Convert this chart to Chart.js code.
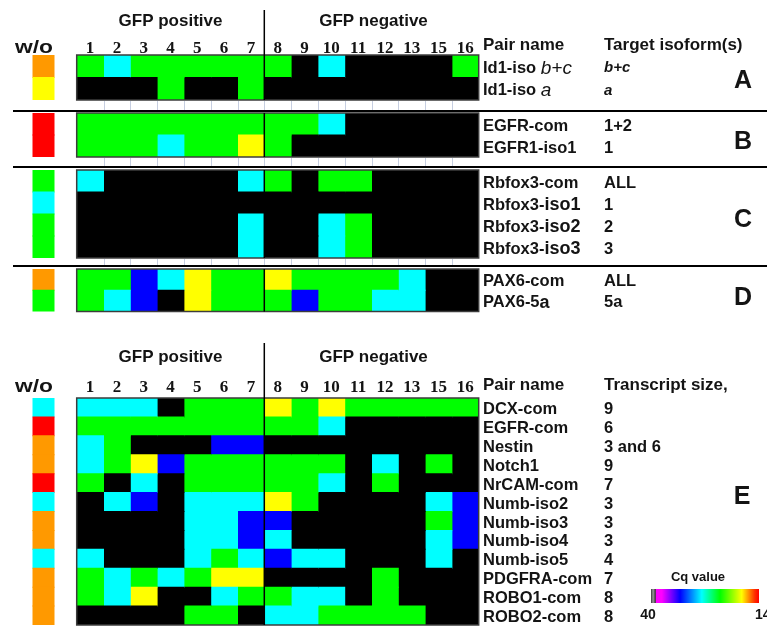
<!DOCTYPE html>
<html>
<head>
<meta charset="utf-8">
<script src="https://cdn.jsdelivr.net/npm/chart.js@4.4.1/dist/chart.umd.min.js"></script>
<style>
  html, body { margin: 0; padding: 0; background: #fff; }
  #wrap { position: relative; width: 767px; height: 627px; overflow: hidden;
          font-family: "Liberation Sans", Arial, sans-serif; font-weight: bold; color: #141414; }
  .sec { position: absolute; left: 0; }
  .rule { position: absolute; left: 13px; width: 754px; height: 2px; background: #000; }
  .letter { position: absolute; font-size: 25px; line-height: 1; transform: translate(-50%, -50%); }
  .txt { position: absolute; white-space: nowrap; line-height: 1; }
  #cbar { position: absolute; left: 651px; top: 589px; width: 108px; height: 14px;
          background: linear-gradient(to right, #3a3a3a 0%, #9a9a9a 2%, #3a3a3a 4%, #ff00ff 5%, #ff00ff 10%,
                      #0000ff 27%, #00ffff 47%, #00ff00 64%, #ffff00 84%, #ff3000 96%, #ff0000 100%); }
</style>
</head>
<body>
<div id="wrap">
  <div class="sec" style="top:0px"><canvas id="secA" width="767" height="111"></canvas></div>
  <div class="sec" style="top:111px"><canvas id="secB" width="767" height="55"></canvas></div>
  <div class="sec" style="top:168px"><canvas id="secC" width="767" height="97"></canvas></div>
  <div class="sec" style="top:267px"><canvas id="secD" width="767" height="47.5"></canvas></div>
  <div class="sec" style="top:330px"><canvas id="secE" width="767" height="297"></canvas></div>

  <div class="rule" style="top:110px"></div>
  <div class="rule" style="top:166px"></div>
  <div class="rule" style="top:265px"></div>

  <div class="letter" style="left:743px; top:79px">A</div>
  <div class="letter" style="left:743px; top:140px">B</div>
  <div class="letter" style="left:743px; top:218px">C</div>
  <div class="letter" style="left:743px; top:296px">D</div>
  <div class="letter" style="left:742px; top:495px">E</div>

  <div class="txt" style="left:698px; top:570px; font-size:13px; transform:translateX(-50%)">Cq value</div>
  <div id="cbar"></div>
  <div class="txt" style="left:648px; top:607px; font-size:14px; transform:translateX(-50%)">40</div>
  <div class="txt" style="left:755px; top:607px; font-size:14px;">14</div>
</div>

<script>
// Sample columns (cell pools); 1-7 are GFP positive, the rest GFP negative
const columns = ['1', '2', '3', '4', '5', '6', '7', '8', '9', '10', '11', '12', '13', '15', '16'];
const gfpPositiveCount = 7;

// Cq values; 40 means no amplification
// A: Id1
const namesA = ['Id1-iso b+c', 'Id1-iso a'];
const targetsA = ['b+c', 'a'];
const woA = [17, 20];
const cqA = [
  [24, 28, 24, 24, 24, 24, 24, 24, 40, 28, 40, 40, 40, 40, 24],
  [40, 40, 40, 24, 40, 40, 24, 40, 40, 40, 40, 40, 40, 40, 40]
];

// B: EGFR
const namesB = ['EGFR-com', 'EGFR1-iso1'];
const targetsB = ['1+2', '1'];
const woB = [15, 15];
const cqB = [
  [24, 24, 24, 24, 24, 24, 24, 24, 24, 28, 40, 40, 40, 40, 40],
  [24, 24, 24, 28, 24, 24, 20, 24, 40, 40, 40, 40, 40, 40, 40]
];

// C: Rbfox3
const namesC = ['Rbfox3-com', 'Rbfox3-iso1', 'Rbfox3-iso2', 'Rbfox3-iso3'];
const targetsC = ['ALL', '1', '2', '3'];
const woC = [24, 28, 24, 24];
const cqC = [
  [28, 40, 40, 40, 40, 40, 28, 24, 40, 24, 24, 40, 40, 40, 40],
  [40, 40, 40, 40, 40, 40, 40, 40, 40, 40, 40, 40, 40, 40, 40],
  [40, 40, 40, 40, 40, 40, 28, 40, 40, 28, 24, 40, 40, 40, 40],
  [40, 40, 40, 40, 40, 40, 28, 40, 40, 28, 24, 40, 40, 40, 40]
];

// D: PAX6
const namesD = ['PAX6-com', 'PAX6-5a'];
const targetsD = ['ALL', '5a'];
const woD = [17, 24];
const cqD = [
  [24, 24, 32, 28, 20, 24, 24, 20, 24, 24, 24, 24, 28, 40, 40],
  [24, 28, 32, 40, 20, 24, 24, 24, 32, 24, 24, 28, 28, 40, 40]
];

// E: marker panel
const namesE = ['DCX-com', 'EGFR-com', 'Nestin', 'Notch1', 'NrCAM-com', 'Numb-iso2',
                'Numb-iso3', 'Numb-iso4', 'Numb-iso5', 'PDGFRA-com', 'ROBO1-com', 'ROBO2-com'];
const sizesE = ['9', '6', '3 and 6', '9', '7', '3', '3', '3', '4', '7', '8', '8'];
const woE = [28, 15, 17, 17, 15, 28, 17, 17, 28, 17, 17, 17];
const cqE = [
  [28, 28, 28, 40, 24, 24, 24, 20, 24, 20, 24, 24, 24, 24, 24],
  [24, 24, 24, 24, 24, 24, 24, 24, 24, 28, 40, 40, 40, 40, 40],
  [28, 24, 40, 40, 40, 32, 32, 40, 40, 40, 40, 40, 40, 40, 40],
  [28, 24, 20, 32, 24, 24, 24, 24, 24, 24, 40, 28, 40, 24, 40],
  [24, 40, 28, 40, 24, 24, 24, 24, 24, 28, 40, 24, 40, 40, 40],
  [40, 28, 32, 40, 28, 28, 28, 20, 24, 40, 40, 40, 40, 28, 32],
  [40, 40, 40, 40, 28, 28, 32, 32, 40, 40, 40, 40, 40, 24, 32],
  [40, 40, 40, 40, 28, 28, 32, 28, 40, 40, 40, 40, 40, 28, 32],
  [28, 40, 40, 40, 28, 24, 28, 32, 28, 28, 40, 40, 40, 28, 40],
  [24, 28, 24, 28, 24, 20, 20, 40, 40, 40, 40, 24, 40, 40, 40],
  [24, 28, 20, 40, 40, 28, 24, 24, 28, 28, 40, 24, 40, 40, 40],
  [40, 40, 40, 40, 24, 24, 40, 28, 28, 24, 24, 24, 24, 40, 40]
];

// Cq -> colour (40 = not detected, drawn black)
function cqColor(v) {
  if (v >= 38) return '#000000';
  if (v >= 30) return '#0000ff';
  if (v >= 26) return '#00ffff';
  if (v >= 22) return '#00ff00';
  if (v >= 18.5) return '#ffff00';
  if (v >= 16) return '#ff9900';
  return '#ff0000';
}

// Page geometry
const CANVAS_W = 767;
const GRID_LEFT = 76.7, GRID_RIGHT = 478.7;
const COL_W = (GRID_RIGHT - GRID_LEFT) / columns.length;
const X_MIN = -GRID_LEFT / COL_W;
const WO_SPAN = [(33 - GRID_LEFT) / COL_W, (54 - GRID_LEFT) / COL_W];
const NAME_X = 483, TARGET_X = 604;
const SANS = '"Liberation Sans", Arial, sans-serif';
const SERIF = '"Liberation Serif", "Times New Roman", serif';
const TEXT_COLOR = '#141414';

const sections = [
  { id: 'secA', padTop: 55, padBottom: 11, gapLines: true, names: namesA, targets: targetsA, wo: woA, cq: cqA,
    targetItalic: true, header: { titleY: 21, numY: 53, lineTop: 10, nameTitle: 'Pair name', valueTitle: 'Target isoform(s)', titleBase: 50 } },
  { id: 'secB', padTop: 2, padBottom: 9, gapLines: true, names: namesB, targets: targetsB, wo: woB, cq: cqB },
  { id: 'secC', padTop: 2, padBottom: 7, gapLines: true, names: namesC, targets: targetsC, wo: woC, cq: cqC },
  { id: 'secD', padTop: 2, padBottom: 2.5, names: namesD, targets: targetsD, wo: woD, cq: cqD },
  { id: 'secE', padTop: 68, padBottom: 2, names: namesE, targets: sizesE, wo: woE, cq: cqE,
    header: { titleY: 27, numY: 62, lineTop: 13, nameTitle: 'Pair name', valueTitle: 'Transcript size,', titleBase: 60 } }
];

// Split a row label into differently styled runs
function labelRuns(text, base) {
  let m;
  if ((m = text.match(/^(Id1-iso )(.+)$/))) return [[m[1], base], [m[2], 'italic 19px ' + SANS]];
  if ((m = text.match(/^(Rbfox3-)(iso\d)$/))) return [[m[1], base], [m[2], 'bold 18px ' + SANS]];
  if ((m = text.match(/^(PAX6-5)(a)$/))) return [[m[1], base], [m[2], 'bold 18px ' + SANS]];
  return [[text, base]];
}

function drawRuns(ctx, runs, x, y) {
  runs.forEach(([t, f]) => {
    ctx.font = f;
    ctx.fillText(t, x, y);
    x += ctx.measureText(t).width;
  });
}

function sectionPlugin(s) {
  return {
    id: 'sectionDecor',
    afterDatasetsDraw(chart) {
      const ctx = chart.ctx;
      const xs = chart.scales.x, ys = chart.scales.y;
      const area = chart.chartArea;
      const x0 = xs.getPixelForValue(0);
      const x1 = xs.getPixelForValue(columns.length);
      const xm = xs.getPixelForValue(gfpPositiveCount);
      ctx.save();

      // faint column guides in the gap below the grid
      if (s.gapLines) {
        ctx.strokeStyle = '#c6cee0';
        ctx.lineWidth = 1;
        for (let j = 1; j < columns.length; j++) {
          const px = Math.round(xs.getPixelForValue(j)) + 0.5;
          ctx.beginPath();
          ctx.moveTo(px, area.bottom + 1);
          ctx.lineTo(px, chart.height);
          ctx.stroke();
        }
      }

      // grid frame and GFP+/GFP- divider
      ctx.strokeStyle = '#3c3c3c';
      ctx.lineWidth = 1.5;
      ctx.strokeRect(x0, area.top, x1 - x0, area.bottom - area.top);
      ctx.strokeStyle = '#000';
      ctx.beginPath();
      ctx.moveTo(xm, s.header ? s.header.lineTop : area.top);
      ctx.lineTo(xm, area.bottom);
      ctx.stroke();

      ctx.fillStyle = TEXT_COLOR;

      // header rows
      if (s.header) {
        const h = s.header;
        ctx.textAlign = 'center';
        ctx.textBaseline = 'middle';
        ctx.font = 'bold 17px ' + SANS;
        ctx.fillText('GFP positive', (x0 + xm) / 2, h.titleY);
        ctx.fillText('GFP negative', (xm + x1) / 2 + 2, h.titleY);
        ctx.textBaseline = 'alphabetic';
        ctx.font = 'bold 17px ' + SERIF;
        columns.forEach((c, j) => ctx.fillText(c, xs.getPixelForValue(j + 0.5), h.numY));
        ctx.textAlign = 'left';
        ctx.save();
        ctx.translate(15, h.numY);
        ctx.scale(1.2, 1);
        ctx.font = 'bold 19px ' + SANS;
        ctx.fillText('w/o', 0, 0);
        ctx.restore();
        ctx.font = 'bold 17px ' + SANS;
        ctx.fillText(h.nameTitle, NAME_X, h.titleBase);
        ctx.fillText(h.valueTitle, TARGET_X, h.titleBase);
      }

      // row labels
      ctx.textAlign = 'left';
      ctx.textBaseline = 'middle';
      const base = 'bold 16.5px ' + SANS;
      s.names.forEach((name, i) => {
        const y = ys.getPixelForValue(i) + 2;
        drawRuns(ctx, labelRuns(name, base), NAME_X, y);
        ctx.font = s.targetItalic ? 'italic bold 15px ' + SANS : 'bold 16.5px ' + SANS;
        ctx.fillText(s.targets[i], TARGET_X, y);
      });
      ctx.restore();
    }
  };
}

sections.forEach(s => {
  const datasets = [];
  // w/o (no template) control strip
  datasets.push({
    data: s.wo.map(() => WO_SPAN.slice()),
    backgroundColor: s.wo.map(cqColor)
  });
  // one dataset per sample column
  columns.forEach((c, j) => {
    datasets.push({
      label: c,
      data: s.cq.map(() => [j, j + 1]),
      backgroundColor: s.cq.map(row => cqColor(row[j]))
    });
  });

  new Chart(document.getElementById(s.id), {
    type: 'bar',
    data: { labels: s.names, datasets },
    options: {
      indexAxis: 'y',
      responsive: false,
      animation: false,
      events: [],
      layout: { padding: { left: 0, right: CANVAS_W - GRID_RIGHT, top: s.padTop, bottom: s.padBottom } },
      scales: {
        x: { type: 'linear', min: X_MIN, max: columns.length, display: false },
        y: { type: 'category', display: false, offset: true }
      },
      plugins: { legend: { display: false }, tooltip: { enabled: false } },
      datasets: {
        bar: { grouped: false, barPercentage: 1, categoryPercentage: 1, borderWidth: 0, inflateAmount: 0.5 }
      }
    },
    plugins: [sectionPlugin(s)]
  });
});
</script>
</body>
</html>
